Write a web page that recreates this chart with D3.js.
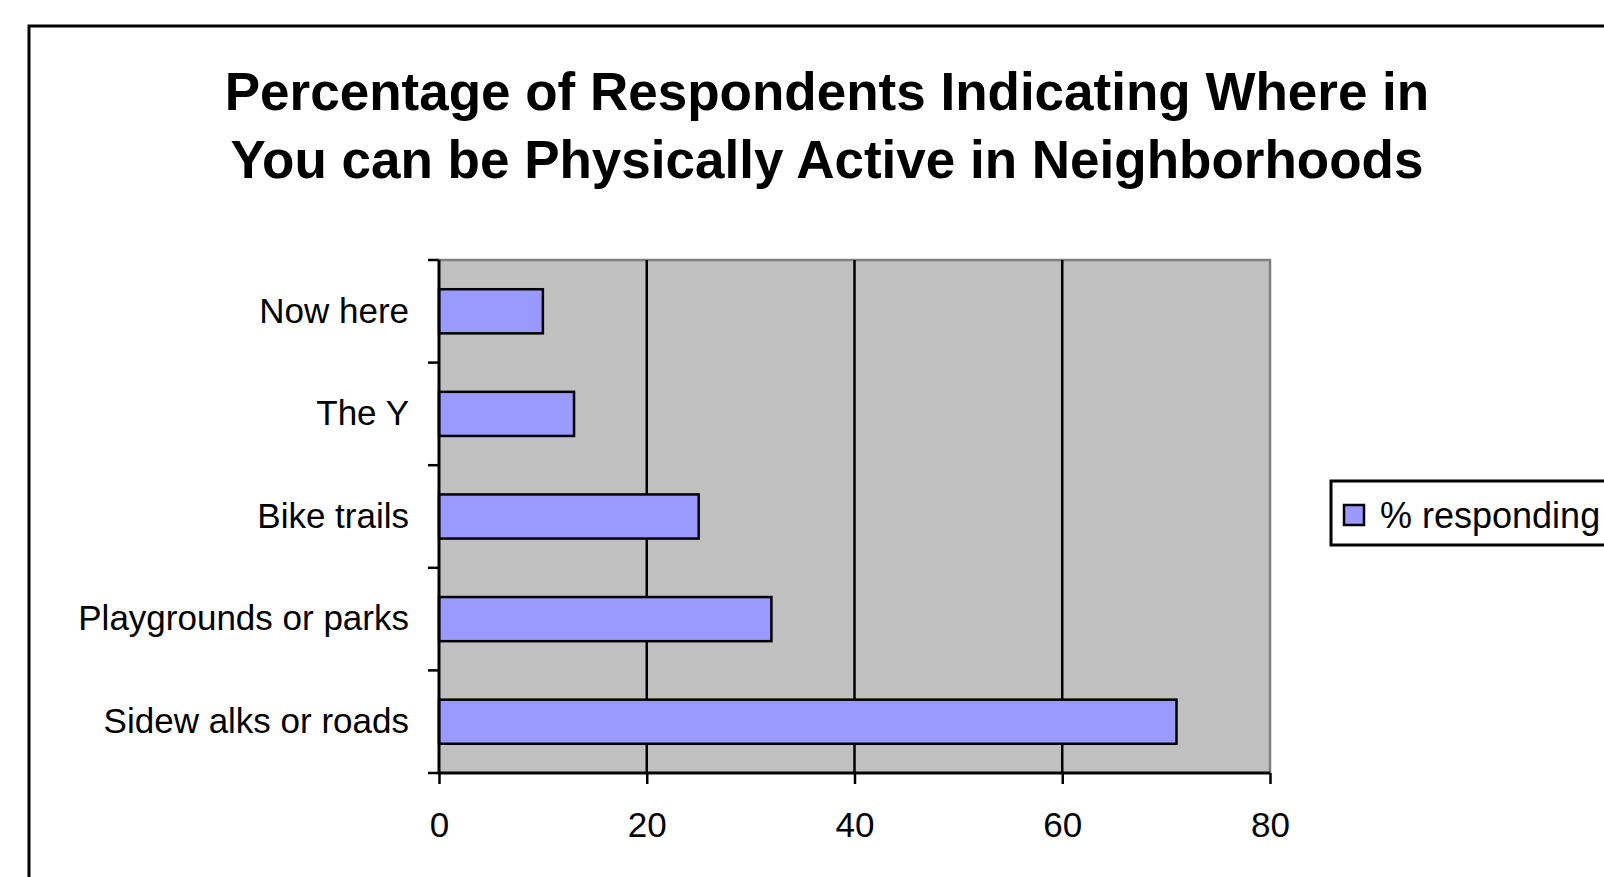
<!DOCTYPE html>
<html>
<head>
<meta charset="utf-8">
<script src="https://cdn.jsdelivr.net/npm/d3@7"></script>
<style>
  body { margin: 0; background: #fff; }
  svg { display: block; font-family: "Liberation Sans", Arial, sans-serif; }
</style>
</head>
<body>
<div id="chart"></div>
<script>
const titleLines = [
  "Percentage of Respondents Indicating Where in",
  "You can be Physically Active in Neighborhoods"
];
const categories = ["Now here", "The Y", "Bike trails", "Playgrounds or parks", "Sidew alks or roads"];
const values = [10, 13, 25, 32, 71];
const xTicks = [0, 20, 40, 60, 80];
const seriesName = "% responding";

const width = 1604;
const height = 877;
const plot = { left: 439, right: 1270, top: 260, bottom: 773 };

const svg = d3.select("#chart").append("svg")
  .attr("width", width)
  .attr("height", height);

// outer frame, runs off the right and bottom edges
svg.append("rect")
  .attr("x", 29).attr("y", 26)
  .attr("width", 1700).attr("height", 1000)
  .attr("fill", "#fff").attr("stroke", "#000").attr("stroke-width", 3);

svg.append("g")
  .selectAll("text")
  .data(titleLines)
  .join("text")
  .attr("x", 827)
  .attr("y", (d, i) => 110 + i * 68)
  .attr("text-anchor", "middle")
  .attr("font-size", 53)
  .attr("font-weight", "bold")
  .attr("fill", "#000")
  .text((d) => d);

const x = d3.scaleLinear().domain([0, 80]).range([plot.left, plot.right]);
const y = d3.scaleBand()
  .domain(categories)
  .range([plot.top, plot.bottom])
  .paddingInner(0.57)
  .paddingOuter(0.285);

// plot background
svg.append("rect")
  .attr("x", plot.left).attr("y", plot.top)
  .attr("width", plot.right - plot.left).attr("height", plot.bottom - plot.top)
  .attr("fill", "#c0c0c0");

// top and right border in grey
svg.append("path")
  .attr("d", `M${plot.left},${plot.top}H${plot.right}V${plot.bottom}`)
  .attr("fill", "none").attr("stroke", "#808080").attr("stroke-width", 2.5);

// vertical gridlines
svg.append("g")
  .selectAll("line")
  .data(xTicks.slice(1, -1))
  .join("line")
  .attr("x1", (d) => x(d)).attr("x2", (d) => x(d))
  .attr("y1", plot.top).attr("y2", plot.bottom)
  .attr("stroke", "#000").attr("stroke-width", 2.5);

svg.append("g")
  .selectAll("rect")
  .data(categories)
  .join("rect")
  .attr("x", x(0))
  .attr("y", (d) => y(d))
  .attr("width", (d, i) => x(values[i]) - x(0))
  .attr("height", y.bandwidth())
  .attr("fill", "#9999ff")
  .attr("stroke", "#000")
  .attr("stroke-width", 2.5);

// x axis
const xAxis = svg.append("g")
  .attr("transform", `translate(0,${plot.bottom})`)
  .call(d3.axisBottom(x).tickValues(xTicks).tickSize(11).tickPadding(28));
xAxis.select(".domain").remove();
xAxis.selectAll("line").attr("stroke", "#000").attr("stroke-width", 2.5);
xAxis.selectAll("text")
  .attr("font-size", 35)
  .attr("font-family", "Liberation Sans, Arial, sans-serif")
  .attr("fill", "#000");

// y axis labels
const yAxis = svg.append("g")
  .attr("transform", `translate(${plot.left},0)`)
  .call(d3.axisLeft(y).tickSize(0).tickPadding(30));
yAxis.select(".domain").remove();
yAxis.selectAll("text")
  .attr("font-size", 35)
  .attr("font-family", "Liberation Sans, Arial, sans-serif")
  .attr("fill", "#000");

// y ticks at category boundaries
svg.append("g")
  .selectAll("line")
  .data(d3.range(categories.length + 1))
  .join("line")
  .attr("x1", plot.left - 11).attr("x2", plot.left)
  .attr("y1", (i) => plot.top + i * y.step())
  .attr("y2", (i) => plot.top + i * y.step())
  .attr("stroke", "#000").attr("stroke-width", 2.5);

// axis lines
svg.append("path")
  .attr("d", `M${plot.left},${plot.top}V${plot.bottom}H${plot.right}`)
  .attr("fill", "none").attr("stroke", "#000").attr("stroke-width", 3);

// legend, cut off by the right edge
const legend = svg.append("g").attr("transform", "translate(1331,481)");
legend.append("rect")
  .attr("width", 320).attr("height", 64)
  .attr("fill", "#fff").attr("stroke", "#000").attr("stroke-width", 3);
legend.append("rect")
  .attr("x", 13).attr("y", 24).attr("width", 20).attr("height", 20)
  .attr("fill", "#9999ff").attr("stroke", "#000").attr("stroke-width", 2.5);
legend.append("text")
  .attr("x", 49).attr("y", 47)
  .attr("font-size", 36)
  .attr("fill", "#000")
  .text(seriesName);
</script>
</body>
</html>
